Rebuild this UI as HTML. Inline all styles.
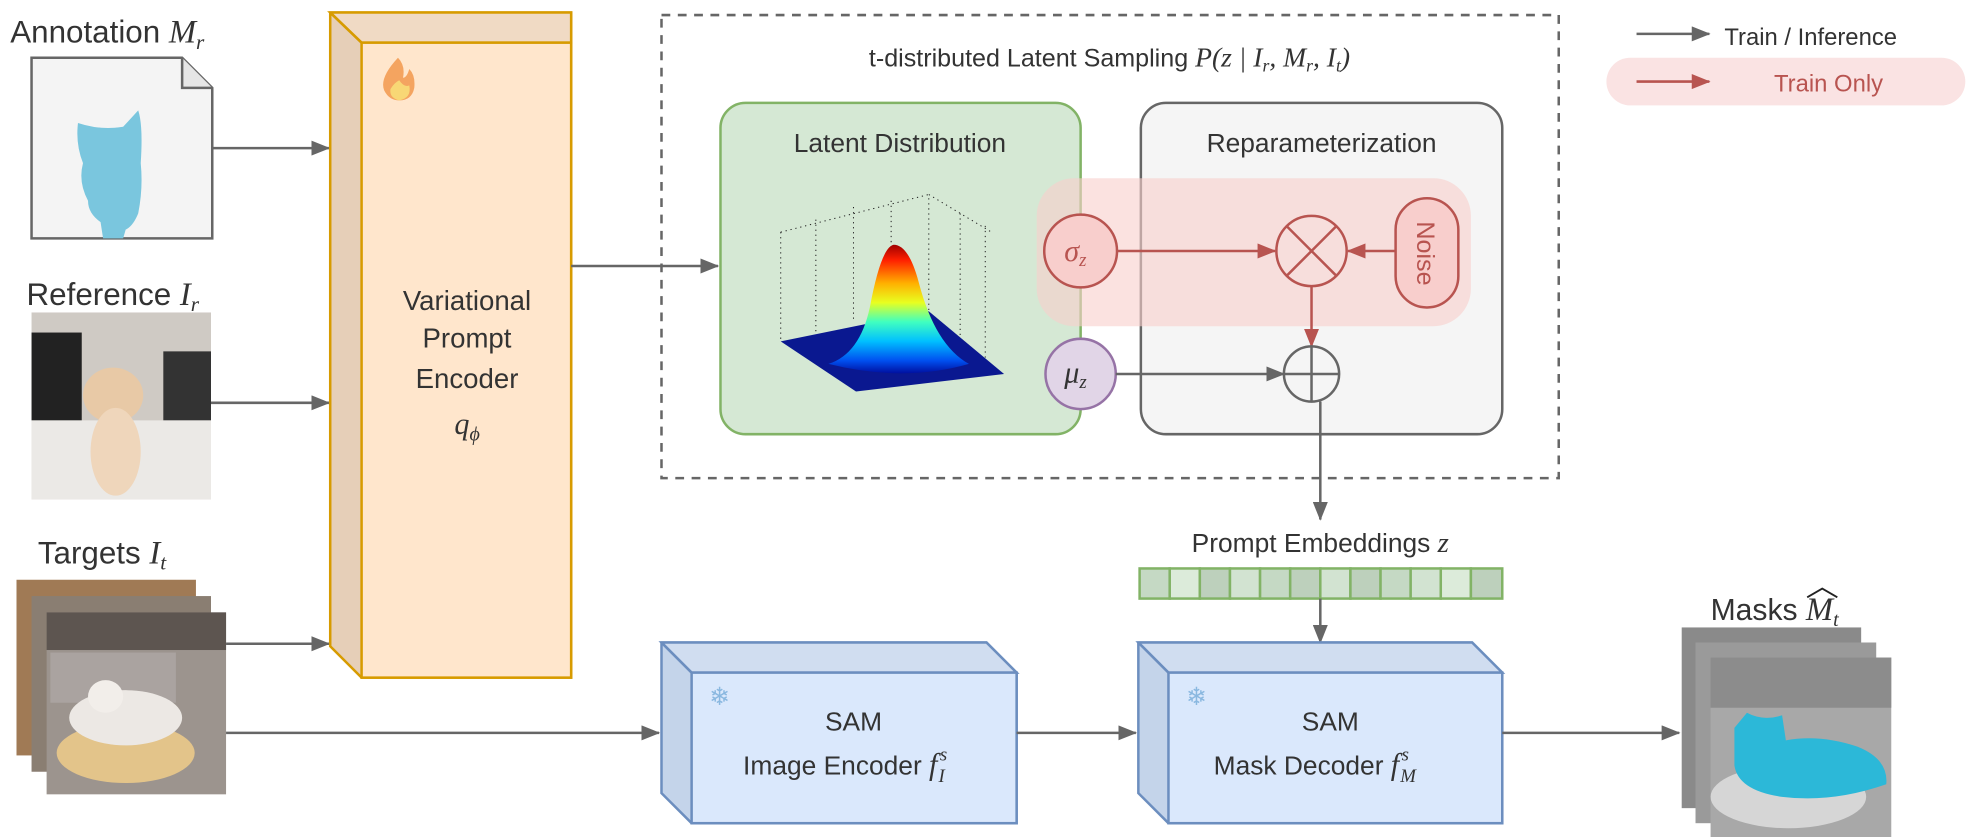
<!DOCTYPE html>
<html><head><meta charset="utf-8"><style>
html,body{margin:0;padding:0;background:#fff}
svg{display:block}
text{font-family:"Liberation Sans",sans-serif;fill:#333}
.m{font-family:"Liberation Serif",serif;font-style:italic}
</style></head><body>
<svg width="1968" height="837" viewBox="0 0 1568 667" xmlns="http://www.w3.org/2000/svg">
<defs>
<marker id="ag" markerWidth="16" markerHeight="12" refX="14" refY="6" orient="auto" markerUnits="userSpaceOnUse"><path d="M0,0 L15,6 L0,12 z" fill="#666"/></marker>
<marker id="ar" markerWidth="16" markerHeight="12" refX="14" refY="6" orient="auto" markerUnits="userSpaceOnUse"><path d="M0,0 L15,6 L0,12 z" fill="#b85450"/></marker>
<linearGradient id="bump" x1="0" y1="0" x2="0" y2="1">
<stop offset="0" stop-color="#a00000"/><stop offset="0.12" stop-color="#ff2000"/><stop offset="0.3" stop-color="#ffb000"/><stop offset="0.45" stop-color="#e8ff20"/><stop offset="0.6" stop-color="#40ffc0"/><stop offset="0.75" stop-color="#00c0ff"/><stop offset="0.9" stop-color="#0050f0"/><stop offset="1" stop-color="#0010a0"/></linearGradient>
</defs>

<!-- Annotation -->
<text x="8" y="34" font-size="25">Annotation <tspan class="m" font-size="26">M</tspan><tspan class="m" font-size="17" dy="5">r</tspan></text>
<path d="M25,46 H145 L169,70 V190 H25 Z" fill="#f4f4f4" stroke="#666" stroke-width="2"/>
<path d="M145,46 V70 H169" fill="#e6e6e6" stroke="#666" stroke-width="2"/>
<path d="M62,98 Q80,104 98,101 L110,88 Q114,100 112,130 Q114,150 110,170 Q106,180 100,183 L98,190 H82 L80,177 Q70,170 70,160 Q62,145 66,130 Q60,115 62,98Z" fill="#7ac6de"/>
<line x1="169" y1="118" x2="262" y2="118" stroke="#666" stroke-width="2" marker-end="url(#ag)"/>

<!-- Reference -->
<text x="21" y="243" font-size="25">Reference <tspan class="m" font-size="26">I</tspan><tspan class="m" font-size="17" dy="5">r</tspan></text>
<rect x="25" y="249" width="143" height="149" fill="#cfcac4"/>
<rect x="25" y="265" width="40" height="70" fill="#222"/>
<rect x="130" y="280" width="38" height="55" fill="#333"/>
<rect x="25" y="335" width="143" height="63" fill="#ebe9e6"/>
<ellipse cx="90" cy="315" rx="24" ry="22" fill="#e8c9a6"/>
<ellipse cx="92" cy="360" rx="20" ry="35" fill="#efd6bb"/>
<line x1="168" y1="321" x2="262" y2="321" stroke="#666" stroke-width="2" marker-end="url(#ag)"/>

<!-- Targets -->
<text x="30" y="449" font-size="25">Targets <tspan class="m" font-size="26">I</tspan><tspan class="m" font-size="17" dy="5">t</tspan></text>
<rect x="13" y="462" width="143" height="140" fill="#a07a55"/>
<rect x="25" y="475" width="143" height="140" fill="#8a7e72"/>
<rect x="37" y="488" width="143" height="145" fill="#9c948e"/>
<rect x="37" y="488" width="143" height="30" fill="#5d5550"/>
<rect x="40" y="520" width="100" height="40" fill="#aaa3a0"/>
<ellipse cx="100" cy="600" rx="55" ry="24" fill="#e3c48a"/>
<ellipse cx="100" cy="572" rx="45" ry="22" fill="#ece8e4"/>
<ellipse cx="84" cy="555" rx="14" ry="13" fill="#f2eeea"/>
<line x1="180" y1="513" x2="262" y2="513" stroke="#666" stroke-width="2" marker-end="url(#ag)"/>
<line x1="180" y1="584" x2="525" y2="584" stroke="#666" stroke-width="2" marker-end="url(#ag)"/>

<!-- Encoder cube -->
<path d="M263,10 H455 V540 H288 L263,515 Z" fill="#e6cfb8" stroke="#d79b00" stroke-width="2"/>
<path d="M263,10 H455 V34 H288 Z" fill="#f0dac4" stroke="#d79b00" stroke-width="2"/>
<rect x="288" y="34" width="167" height="506" fill="#ffe6cc" stroke="#d79b00" stroke-width="2"/>
<line x1="263" y1="10" x2="288" y2="34" stroke="#d79b00" stroke-width="2"/>
<path d="M317,46 Q302,62 306,72 Q310,80 318,80 Q328,80 330,70 Q331,60 326,55 Q324,62 321,62 Q323,52 317,46Z" fill="#f4a460"/>
<path d="M318,80 Q310,78 311,71 Q314,66 318,64 Q322,70 326,68 Q328,78 318,80Z" fill="#f8d775"/>
<g text-anchor="middle" font-size="22"><text x="372" y="247">Variational</text><text x="372" y="277">Prompt</text><text x="372" y="309">Encoder</text></g>
<text x="362" y="346" class="m" font-size="24">q<tspan font-size="16" dy="5">ϕ</tspan></text>

<!-- Dashed box -->
<rect x="527" y="12" width="715" height="369" fill="none" stroke="#666" stroke-width="2" stroke-dasharray="7,6"/>
<text x="884" y="53" text-anchor="middle" font-size="20">t-distributed Latent Sampling <tspan class="m" font-size="22">P</tspan><tspan class="m" font-size="22">(z | I</tspan><tspan class="m" font-size="14" dy="4">r</tspan><tspan class="m" font-size="22" dy="-4">, M</tspan><tspan class="m" font-size="14" dy="4">r</tspan><tspan class="m" font-size="22" dy="-4">, I</tspan><tspan class="m" font-size="14" dy="4">t</tspan><tspan class="m" font-size="22" dy="-4">)</tspan></text>

<line x1="455" y1="212" x2="572" y2="212" stroke="#666" stroke-width="2" marker-end="url(#ag)"/>

<rect x="574" y="82" width="287" height="264" rx="20" fill="#d5e8d4" stroke="#82b366" stroke-width="2"/>
<text x="717" y="121" text-anchor="middle" font-size="21">Latent Distribution</text>
<g stroke="#222" stroke-width="0.8" stroke-dasharray="1,3">
<line x1="622" y1="185" x2="622" y2="270"/><line x1="650" y1="175" x2="650" y2="265"/><line x1="680" y1="165" x2="680" y2="255"/><line x1="710" y1="160" x2="710" y2="250"/><line x1="740" y1="158" x2="740" y2="255"/><line x1="765" y1="170" x2="765" y2="275"/><line x1="785" y1="180" x2="785" y2="300"/><line x1="622" y1="185" x2="740" y2="155"/><line x1="740" y1="155" x2="790" y2="185"/>
</g>
<path d="M622,272 L740,248 L800,298 L682,312 Z" fill="#0a1890"/>
<path d="M660,290 Q685,282 693,245 Q702,197 712,195 Q724,195 732,225 Q745,275 772,290 Q720,305 660,290Z" fill="url(#bump)"/>

<rect x="909" y="82" width="288" height="264" rx="20" fill="#f5f5f5" stroke="#666" stroke-width="2"/>
<text x="1053" y="121" text-anchor="middle" font-size="21">Reparameterization</text>

<rect x="826" y="142" width="346" height="118" rx="30" fill="#f8cecc" fill-opacity="0.6"/>

<circle cx="861" cy="200" r="29" fill="#f8cecc" stroke="#b85450" stroke-width="2"/>
<text x="848" y="208" class="m" font-size="24" style="fill:#b85450">σ<tspan font-size="15" dy="4">z</tspan></text>
<circle cx="861" cy="298" r="28" fill="#e1d5e7" stroke="#9673a6" stroke-width="2"/>
<text x="848" y="305" class="m" font-size="24">μ<tspan font-size="15" dy="4">z</tspan></text>

<line x1="890" y1="200" x2="1016" y2="200" stroke="#b85450" stroke-width="2" marker-end="url(#ar)"/>
<circle cx="1045" cy="200" r="28" fill="none" stroke="#b85450" stroke-width="2"/>
<line x1="1025" y1="180" x2="1065" y2="220" stroke="#b85450" stroke-width="2"/><line x1="1065" y1="180" x2="1025" y2="220" stroke="#b85450" stroke-width="2"/>
<rect x="1112" y="158" width="50" height="87" rx="25" fill="#f8cecc" stroke="#b85450" stroke-width="2"/>
<text transform="translate(1129,202) rotate(90)" text-anchor="middle" font-size="20" style="fill:#b85450">Noise</text>
<line x1="1112" y1="200" x2="1074" y2="200" stroke="#b85450" stroke-width="2" marker-end="url(#ar)"/>
<line x1="1045" y1="228" x2="1045" y2="276" stroke="#b85450" stroke-width="2" marker-end="url(#ar)"/>

<circle cx="1045" cy="298" r="22" fill="none" stroke="#666" stroke-width="2"/>
<line x1="1023" y1="298" x2="1067" y2="298" stroke="#666" stroke-width="2"/><line x1="1045" y1="276" x2="1045" y2="320" stroke="#666" stroke-width="2"/>
<line x1="889" y1="298" x2="1023" y2="298" stroke="#666" stroke-width="2" marker-end="url(#ag)"/>
<line x1="1052" y1="320" x2="1052" y2="414" stroke="#666" stroke-width="2" marker-end="url(#ag)"/>

<text x="1052" y="440" text-anchor="middle" font-size="21">Prompt Embeddings <tspan class="m" font-size="23">z</tspan></text>
<g stroke="#82b366" stroke-width="2">
<rect x="908" y="453" width="24" height="24" fill="#c5d9c4"/><rect x="932" y="453" width="24" height="24" fill="#dcebda"/><rect x="956" y="453" width="24" height="24" fill="#bdd0bc"/><rect x="980" y="453" width="24" height="24" fill="#d2e3d1"/><rect x="1004" y="453" width="24" height="24" fill="#c5d9c4"/><rect x="1028" y="453" width="24" height="24" fill="#bdd0bc"/><rect x="1052" y="453" width="24" height="24" fill="#d2e3d1"/><rect x="1076" y="453" width="24" height="24" fill="#bdd0bc"/><rect x="1100" y="453" width="24" height="24" fill="#c5d9c4"/><rect x="1124" y="453" width="24" height="24" fill="#d2e3d1"/><rect x="1148" y="453" width="24" height="24" fill="#dcebda"/><rect x="1172" y="453" width="25" height="24" fill="#bdd0bc"/>
</g>
<line x1="1052" y1="477" x2="1052" y2="512" stroke="#666" stroke-width="2" marker-end="url(#ag)"/>

<!-- SAM image encoder -->
<path d="M527,512 H786 L810,536 V656 H551 L527,632 Z" fill="#c4d4ea" stroke="#6c8ebf" stroke-width="2"/>
<path d="M527,512 H786 L810,536 H551 Z" fill="#d0ddf0" stroke="#6c8ebf" stroke-width="2"/>
<rect x="551" y="536" width="259" height="120" fill="#dae8fc" stroke="#6c8ebf" stroke-width="2"/>
<line x1="527" y1="512" x2="551" y2="536" stroke="#6c8ebf" stroke-width="2"/>
<text x="565" y="562" font-size="20" style="fill:#8ab8e0">❄</text>
<text x="680" y="582" text-anchor="middle" font-size="21">SAM</text>
<text x="592" y="617" font-size="21">Image Encoder <tspan class="m" font-size="24">f</tspan><tspan class="m" font-size="15" dx="2" dy="-11">s</tspan><tspan class="m" font-size="15" dx="-7" dy="17">I</tspan></text>
<line x1="810" y1="584" x2="905" y2="584" stroke="#666" stroke-width="2" marker-end="url(#ag)"/>

<!-- SAM mask decoder -->
<path d="M907,512 H1173 L1197,536 V656 H931 L907,632 Z" fill="#c4d4ea" stroke="#6c8ebf" stroke-width="2"/>
<path d="M907,512 H1173 L1197,536 H931 Z" fill="#d0ddf0" stroke="#6c8ebf" stroke-width="2"/>
<rect x="931" y="536" width="266" height="120" fill="#dae8fc" stroke="#6c8ebf" stroke-width="2"/>
<line x1="907" y1="512" x2="931" y2="536" stroke="#6c8ebf" stroke-width="2"/>
<text x="945" y="562" font-size="20" style="fill:#8ab8e0">❄</text>
<text x="1060" y="582" text-anchor="middle" font-size="21">SAM</text>
<text x="967" y="617" font-size="21">Mask Decoder <tspan class="m" font-size="24">f</tspan><tspan class="m" font-size="15" dx="2" dy="-11">s</tspan><tspan class="m" font-size="15" dx="-7" dy="17">M</tspan></text>
<line x1="1197" y1="584" x2="1338" y2="584" stroke="#666" stroke-width="2" marker-end="url(#ag)"/>

<!-- Masks -->
<text x="1363" y="494" font-size="24">Masks <tspan class="m" font-size="26">M</tspan><tspan class="m" font-size="16" dy="5">t</tspan></text>
<path d="M1440,476 L1452,469 L1464,476" fill="none" stroke="#222" stroke-width="1.5"/>
<rect x="1340" y="500" width="143" height="144" fill="#8a8a8a"/>
<rect x="1351" y="512" width="144" height="144" fill="#9a9a9a"/>
<rect x="1363" y="524" width="144" height="143" fill="#a8a8a8"/>
<rect x="1363" y="524" width="144" height="40" fill="#8c8c8c"/>
<ellipse cx="1425" cy="635" rx="62" ry="25" fill="#d6d6d6"/>
<path d="M1382,580 L1392,568 Q1405,575 1420,570 L1423,590 Q1450,585 1480,595 Q1505,605 1503,625 Q1460,640 1420,635 Q1385,630 1382,610 Z" fill="#2cb8d8"/>

<!-- Legend -->
<line x1="1304" y1="27" x2="1362" y2="27" stroke="#666" stroke-width="2" marker-end="url(#ag)"/>
<text x="1374" y="36" font-size="19">Train / Inference</text>
<rect x="1280" y="46" width="286" height="38" rx="19" fill="#fae3e3"/>
<line x1="1304" y1="65" x2="1362" y2="65" stroke="#b85450" stroke-width="2" marker-end="url(#ar)"/>
<text x="1457" y="73" text-anchor="middle" font-size="19" style="fill:#b85450">Train Only</text>
</svg>
</body></html>
